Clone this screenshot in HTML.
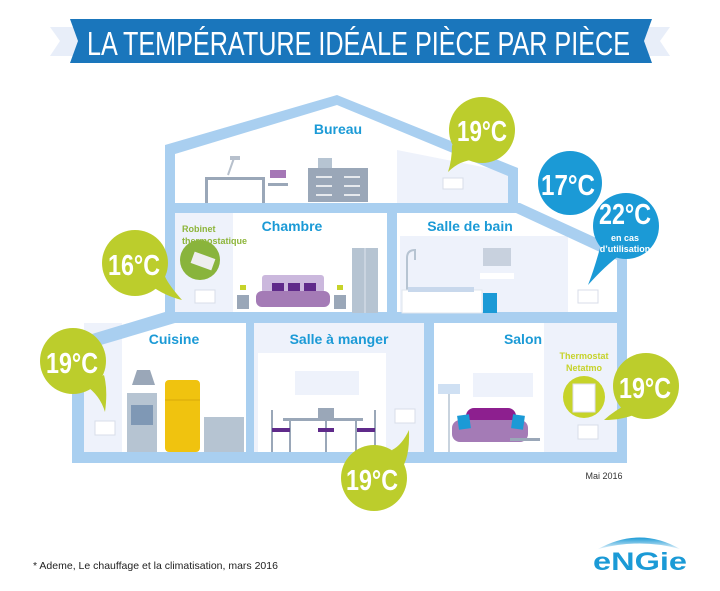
<!DOCTYPE html>
<html><head><meta charset="utf-8"><style>
html,body{margin:0;padding:0;background:#fff}
svg{display:block}
text{font-family:"Liberation Sans",sans-serif}
</style></head><body>
<svg width="720" height="591" viewBox="0 0 720 591" xmlns="http://www.w3.org/2000/svg">
<rect width="720" height="591" fill="#fff"/>
<!-- banner -->
<polygon points="50,27 78,27 78,56 50,56 60,41" fill="#e8eef9"/>
<polygon points="670,27 642,27 642,56 670,56 660,41" fill="#e8eef9"/>
<polygon points="70,19 652,19 644,41 652,63 70,63 78,41" fill="#1a76bc"/>
<text x="87" y="55" font-size="33" fill="#fff" textLength="543" lengthAdjust="spacingAndGlyphs" font-weight="normal">LA TEMPÉRATURE IDÉALE PIÈCE PAR PIÈCE</text>

<!-- room backgrounds -->
<polygon points="175,153 337,105 508,172 508,203 175,203" fill="#fff"/>
<polygon points="397,150 508,172 508,203 397,203" fill="#eef2fb"/>
<rect x="175" y="213" width="212" height="100" fill="#fff"/>
<rect x="175" y="213" width="58" height="100" fill="#eef2fb"/>
<rect x="397" y="213" width="221" height="100" fill="#fff"/>
<rect x="400" y="236" width="168" height="77" fill="#eef2fb"/>
<rect x="84" y="323" width="162" height="129" fill="#fff"/>
<rect x="84" y="323" width="38" height="129" fill="#eef2fb"/>
<rect x="254" y="323" width="170" height="129" fill="#eef2fb"/>
<rect x="258" y="353" width="128" height="99" fill="#fff"/>
<rect x="434" y="323" width="184" height="129" fill="#fff"/>
<rect x="544" y="323" width="74" height="129" fill="#eef2fb"/>

<!-- house structure -->
<g fill="#a9cff0">
<polygon points="165,145 337,95 518,168 518,203 508,203 508,176 337,105 175,154 175,320 165,320"/>
<polygon points="165,203 520,203 627,252 627,463 617,463 617,260 516,213 165,213"/>
<rect x="387" y="213" width="10" height="100"/>
<polygon points="165,312 627,312 627,323 175,323 84,350 84,463 72,463 72,340 165,312"/>
<rect x="72" y="452" width="555" height="11"/>
<rect x="246" y="323" width="8" height="129"/>
<rect x="424" y="323" width="10" height="129"/>
</g>

<!-- furniture: bureau -->
<rect x="205" y="177" width="60" height="3" fill="#9aa7b8"/><rect x="205" y="177" width="3" height="26" fill="#9aa7b8"/><rect x="262" y="177" width="3" height="26" fill="#9aa7b8"/>
<line x1="228" y1="175" x2="234" y2="158" stroke="#b7c0cc" stroke-width="2"/><rect x="230" y="156" width="10" height="4" fill="#b7c0cc"/>
<rect x="270" y="170" width="16" height="8" fill="#a577b6"/><rect x="268" y="183" width="20" height="3" fill="#9aa7b8"/>
<rect x="318" y="158" width="14" height="10" fill="#b6c4d2"/><rect x="308" y="168" width="60" height="34" fill="#9aa7b8"/>
<g stroke="#fff" stroke-width="1.5"><line x1="316" y1="177" x2="332" y2="177"/><line x1="344" y1="177" x2="360" y2="177"/><line x1="316" y1="186" x2="332" y2="186"/><line x1="344" y1="186" x2="360" y2="186"/><line x1="316" y1="195" x2="332" y2="195"/><line x1="344" y1="195" x2="360" y2="195"/></g>
<!-- radiators -->
<g fill="#fff" stroke="#d8dee8" stroke-width="1">
<rect x="443" y="178" width="20" height="11"/><rect x="195" y="290" width="20" height="13"/><rect x="578" y="290" width="20" height="13"/>
<rect x="95" y="421" width="20" height="14"/><rect x="395" y="409" width="20" height="14"/><rect x="578" y="425" width="20" height="14"/>
</g>
<!-- chambre -->
<circle cx="200" cy="260" r="20" fill="#89b43c"/><rect x="192" y="255" width="22" height="12" fill="#eee" transform="rotate(20 203 261)"/>
<rect x="262" y="275" width="62" height="18" rx="3" fill="#cbb8dd"/>
<rect x="272" y="283" width="12" height="10" fill="#5f2a8a"/><rect x="288" y="283" width="12" height="10" fill="#5f2a8a"/><rect x="304" y="283" width="12" height="10" fill="#5f2a8a"/>
<rect x="256" y="291" width="74" height="16" rx="6" fill="#a47bb6"/>
<rect x="237" y="295" width="12" height="14" fill="#9aa7b8"/><rect x="334" y="295" width="12" height="14" fill="#9aa7b8"/>
<rect x="240" y="285" width="6" height="5" fill="#c6d32a"/><rect x="337" y="285" width="6" height="5" fill="#c6d32a"/>
<rect x="352" y="248" width="26" height="65" fill="#b6c4d2"/><line x1="365" y1="248" x2="365" y2="313" stroke="#dfe5ee"/>
<!-- salle de bain -->
<rect x="483" y="248" width="28" height="18" fill="#c8d1de"/><rect x="480" y="273" width="34" height="6" fill="#fff"/>
<path d="M407 300 V258 q0-8 8-8 v10" fill="none" stroke="#b6c4d2" stroke-width="2"/>
<rect x="402" y="290" width="80" height="23" fill="#fff" stroke="#dfe5ee"/><rect x="408" y="287" width="66" height="5" fill="#c8d8ec"/>
<rect x="483" y="293" width="14" height="20" fill="#1b9ad6"/>
<!-- cuisine -->
<polygon points="137,370 150,370 155,385 132,385" fill="#9aa7b8"/>
<rect x="127" y="393" width="30" height="59" fill="#b6c4d2"/><rect x="131" y="405" width="22" height="20" fill="#7f98b5"/>
<rect x="165" y="380" width="35" height="72" rx="4" fill="#f0c30f"/><line x1="165" y1="400" x2="200" y2="400" stroke="#d9a90a"/>
<rect x="204" y="417" width="40" height="35" fill="#b6c4d2"/>
<!-- salle a manger -->
<rect x="295" y="371" width="64" height="24" fill="#eef2fb"/>
<rect x="283" y="418" width="80" height="3" fill="#9aa7b8"/>
<rect x="318" y="408" width="16" height="12" fill="#9aa7b8"/>
<g stroke="#9aa7b8" stroke-width="2"><line x1="272" y1="410" x2="272" y2="452"/><line x1="375" y1="410" x2="375" y2="452"/><line x1="290" y1="421" x2="290" y2="452"/><line x1="356" y1="421" x2="356" y2="452"/><line x1="326" y1="420" x2="326" y2="452"/></g>
<rect x="272" y="428" width="18" height="4" fill="#5f2a8a"/><rect x="318" y="428" width="16" height="4" fill="#5f2a8a"/><rect x="357" y="428" width="18" height="4" fill="#5f2a8a"/>
<!-- salon -->
<rect x="473" y="373" width="60" height="24" fill="#eef2fb"/>
<rect x="438" y="384" width="22" height="10" fill="#cfe0f3"/><line x1="449" y1="394" x2="449" y2="452" stroke="#b6c4d2" stroke-width="1.5"/>
<rect x="466" y="408" width="50" height="22" rx="8" fill="#8d1f8f"/>
<rect x="452" y="420" width="76" height="22" rx="8" fill="#a47bb6"/>
<rect x="458" y="415" width="12" height="14" fill="#1b9ad6" transform="rotate(-8 464 422)"/><rect x="512" y="415" width="12" height="14" fill="#1b9ad6" transform="rotate(8 518 422)"/>
<rect x="510" y="438" width="30" height="3" fill="#9aa7b8"/>
<circle cx="584" cy="397" r="21" fill="#c6d32a"/><rect x="573" y="384" width="22" height="28" fill="#fff" stroke="#dde"/>

<!-- labels -->
<g fill="#1b9ad6" font-weight="bold" font-size="14" text-anchor="middle">
<text x="338" y="134">Bureau</text><text x="292" y="231">Chambre</text><text x="470" y="231">Salle de bain</text>
<text x="174" y="344">Cuisine</text><text x="339" y="344">Salle à manger</text><text x="523" y="344">Salon</text>
</g>
<g fill="#8db53a" font-weight="bold" font-size="9"><text x="182" y="232">Robinet</text><text x="182" y="244">thermostatique</text></g>
<g fill="#c6d32a" font-weight="bold" font-size="9" text-anchor="middle"><text x="584" y="359">Thermostat</text><text x="584" y="371">Netatmo</text></g>

<!-- bubbles -->
<g fill="#bccd2c">
<circle cx="482" cy="130" r="33"/><path d="M452 145 Q452 160 448 172 Q462 158 480 160 Z"/>
<circle cx="135" cy="263" r="33"/><path d="M150 285 Q165 296 182 300 Q160 275 165 270 Z"/>
<circle cx="73" cy="361" r="33"/><path d="M85 385 Q100 395 105 412 Q108 390 104 375 Z"/>
<circle cx="374" cy="478" r="33"/><path d="M392 450 Q402 445 409 430 Q410 460 400 470 Z"/>
<circle cx="646" cy="386" r="33"/><path d="M628 404 Q615 410 604 420 Q625 420 640 412 Z"/>
</g>
<g fill="#1b9ad6">
<circle cx="570" cy="183" r="32"/>
<circle cx="626" cy="226" r="33"/><path d="M600 248 Q594 270 588 285 Q606 265 620 255 Z"/>
</g>
<g fill="#fff" font-size="29" font-weight="bold" text-anchor="middle" font-family="Liberation Sans Narrow,Liberation Sans,sans-serif">
<text x="482" y="141" textLength="50" lengthAdjust="spacingAndGlyphs">19°C</text>
<text x="134" y="275" textLength="52" lengthAdjust="spacingAndGlyphs">16°C</text>
<text x="72" y="373" textLength="52" lengthAdjust="spacingAndGlyphs">19°C</text>
<text x="372" y="490" textLength="52" lengthAdjust="spacingAndGlyphs">19°C</text>
<text x="645" y="398" textLength="52" lengthAdjust="spacingAndGlyphs">19°C</text>
<text x="568" y="195" textLength="54" lengthAdjust="spacingAndGlyphs">17°C</text>
<text x="625" y="224" textLength="52" lengthAdjust="spacingAndGlyphs">22°C</text>
</g>
<g fill="#fff" font-size="9" font-weight="bold" text-anchor="middle"><text x="625" y="241">en cas</text><text x="625" y="252">d’utilisation</text></g>

<text x="604" y="479" font-size="9" fill="#333" text-anchor="middle">Mai 2016</text>
<text x="33" y="569" font-size="10.5" fill="#222">* Ademe, Le chauffage et la climatisation, mars 2016</text>
<!-- engie logo -->
<defs><linearGradient id="g" x1="0" y1="0" x2="0" y2="1"><stop offset="0" stop-color="#1b9ad6"/><stop offset="1" stop-color="#e6f3fb"/></linearGradient></defs>
<path d="M598 549 Q640 526 680 549 Q640 538 598 549 Z" fill="url(#g)"/>
<text x="640" y="570" font-size="25" font-weight="bold" fill="#1b9ad6" text-anchor="middle" textLength="94" lengthAdjust="spacingAndGlyphs">eNGie</text>
</svg>
</body></html>
